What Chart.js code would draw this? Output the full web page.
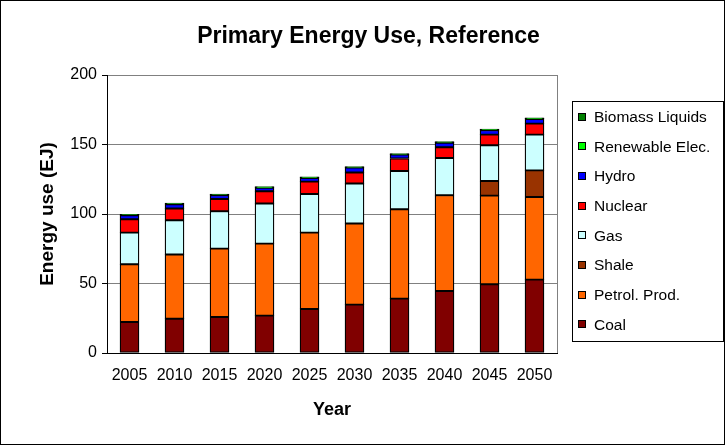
<!DOCTYPE html>
<html>
<head>
<meta charset="utf-8">
<script src="https://cdn.jsdelivr.net/npm/chart.js@4/dist/chart.umd.min.js"></script>
<style>
  html, body { margin: 0; padding: 0; background: #fff; }
  #frame { width: 725px; height: 445px; box-sizing: border-box; border: 1px solid #000; position: relative; }
  #c { display: block; }
</style>
</head>
<body>
<div id="frame"><canvas id="c" width="723" height="443"></canvas></div>
<script>
// Primary energy use by source, reference scenario (EJ)
const years = ['2005', '2010', '2015', '2020', '2025', '2030', '2035', '2040', '2045', '2050'];
const coal      = [22.3, 24.7, 25.9, 26.9, 31.7, 34.8, 39.1, 44.6, 49.4, 52.8];
const petrol    = [41.5, 46.1, 49.2, 51.8, 54.9, 58.3, 64.3, 68.9, 63.8, 59.4];
const shale     = [0, 0, 0, 0, 0, 0, 0, 0, 10.5, 19.2];
const gas       = [22.8, 24.7, 26.9, 28.8, 27.8, 28.9, 27.6, 26.8, 25.7, 25.7];
const nuclear   = [9.6, 8.4, 8.8, 8.8, 8.9, 7.8, 8.9, 7.7, 7.7, 7.9];
const hydro     = [2.8, 3.1, 2.7, 2.6, 2.6, 3.6, 2.8, 3.3, 3.2, 3.4];
const renewable = [0.4, 0.4, 0.4, 0.4, 0.4, 0.4, 0.4, 0.4, 0.4, 0.4];
const biomass   = [0.4, 0.4, 0.4, 0.4, 0.4, 0.4, 0.4, 0.4, 0.4, 0.4];
const yTicks = [0, 50, 100, 150, 200];

const FONT = '"Liberation Sans", Arial, sans-serif';

const series = [
  { label: 'Coal',            data: coal,      color: '#800000', edge: 1.3 },
  { label: 'Petrol. Prod.',   data: petrol,    color: '#FF6600', edge: 1.3 },
  { label: 'Shale',           data: shale,     color: '#993300', edge: 1.3 },
  { label: 'Gas',             data: gas,       color: '#CCFFFF', edge: 1.3 },
  { label: 'Nuclear',         data: nuclear,   color: '#FF0000', edge: 1.3 },
  { label: 'Hydro',           data: hydro,     color: '#0000FF', edge: 1.3 },
  { label: 'Renewable Elec.', data: renewable, color: '#00FF00', edge: 2 },
  { label: 'Biomass Liquids', data: biomass,   color: '#008000', edge: 2 }
];

// Title, plot-area frame and boxed legend
const decorations = {
  id: 'decorations',
  beforeDatasetsDraw(chart) {
    const { ctx, chartArea: a } = chart;
    ctx.save();
    ctx.strokeStyle = '#808080';
    ctx.lineWidth = 1;
    ctx.beginPath();
    ctx.moveTo(Math.round(a.right) + 0.5, a.top);
    ctx.lineTo(Math.round(a.right) + 0.5, a.bottom);
    ctx.stroke();
    ctx.restore();
  },
  afterDraw(chart) {
    const { ctx } = chart;
    ctx.save();
    // chart title
    ctx.fillStyle = '#000';
    ctx.font = 'bold 23px ' + FONT;
    ctx.textAlign = 'center';
    ctx.textBaseline = 'middle';
    ctx.fillText('Primary Energy Use, Reference', 367.5, 36);

    // legend box
    const lx = 571, ly = 100, lw = 151, lh = 240;
    ctx.strokeStyle = '#000';
    ctx.lineWidth = 1;
    ctx.strokeRect(lx + 0.5, ly + 0.5, lw, lh);
    ctx.font = '15.5px ' + FONT;
    ctx.textAlign = 'left';
    const items = chart.data.datasets.slice().reverse();
    items.forEach((ds, i) => {
      const cy = 115.7 + i * 29.65;
      ctx.fillStyle = ds.backgroundColor;
      ctx.fillRect(577, Math.round(cy) - 4, 8, 8);
      ctx.strokeStyle = '#000';
      ctx.lineWidth = 1;
      ctx.strokeRect(577.5, Math.round(cy) - 3.5, 7, 7);
      ctx.fillStyle = '#000';
      ctx.fillText(ds.label, 593, cy + 1);
    });
    ctx.restore();
  }
};

new Chart(document.getElementById('c'), {
  type: 'bar',
  data: {
    labels: years,
    datasets: series.map(s => ({
      label: s.label,
      data: s.data,
      backgroundColor: s.color,
      borderColor: '#000',
      borderWidth: s.edge,
      borderSkipped: false,
      barThickness: 19
    }))
  },
  options: {
    responsive: false,
    animation: false,
    devicePixelRatio: 1,
    layout: { padding: { left: 0, top: 74, right: 167, bottom: 0 } },
    plugins: {
      legend: { display: false },
      title: { display: false },
      tooltip: { enabled: false }
    },
    scales: {
      x: {
        stacked: true,
        grid: { display: false, drawTicks: false, tickLength: 0 },
        border: { display: true, color: '#000', width: 1 },
        ticks: { color: '#000', font: { family: FONT, size: 16 }, padding: 13, maxRotation: 0 },
        title: { display: true, text: 'Year', color: '#000', font: { family: FONT, size: 18, weight: 'bold' }, padding: { top: 0, bottom: 23 } },
        afterFit(s) { s.height = 91; }
      },
      y: {
        stacked: true,
        min: 0,
        max: 200,
        afterBuildTicks(s) { s.ticks = yTicks.map(v => ({ value: v })); },
        grid: { color: '#808080', lineWidth: 1, drawTicks: true, tickLength: 5, tickColor: '#000' },
        border: { display: true, color: '#000', width: 1 },
        ticks: { color: '#000', font: { family: FONT, size: 16 }, padding: 5 },
        title: { display: true, text: 'Energy use (EJ)', color: '#000', font: { family: FONT, size: 19, weight: 'bold' }, padding: { top: 35, bottom: 0 } },
        afterFit(s) { s.width = 106; }
      }
    }
  },
  plugins: [decorations]
});
</script>
</body>
</html>
